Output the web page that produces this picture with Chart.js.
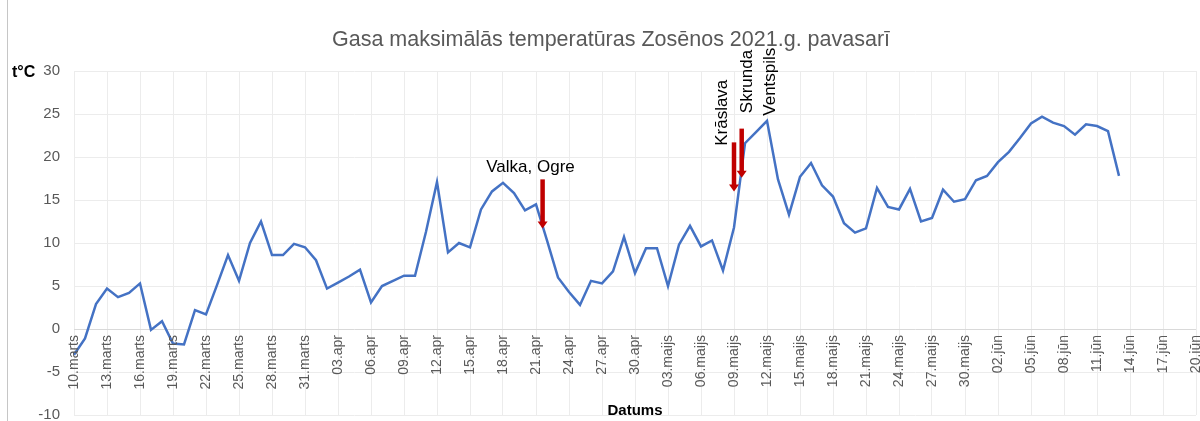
<!DOCTYPE html>
<html>
<head>
<meta charset="utf-8">
<script src="https://cdn.jsdelivr.net/npm/chart.js@4.4.0/dist/chart.umd.min.js"></script>
<style>
  html, body { margin: 0; padding: 0; background: #fff; }
  #wrap { width: 1200px; height: 421px; }
</style>
</head>
<body>
<div id="wrap"><canvas id="Zoseni" width="1200" height="421"></canvas></div>
<script>
// months on the axis: first day shown and last day shown in each
var months = ["marts", "apr", "maijs", "jūn"];
var monthFirst = [10, 1, 1, 1];
var monthLast = [31, 30, 31, 20];

// daily max temperature, 10.marts .. 13.jūn
var temps = [
  -3.0, -1.1, 2.9, 4.7, 3.7, 4.2, 5.3, -0.1, 0.9, -1.7,
  -1.8, 2.2, 1.7, 5.1, 8.6, 5.6, 10.0, 12.5, 8.6, 8.6,
  9.9, 9.5, 8.0, 4.7, 5.4, 6.1, 6.9, 3.1, 5.0, 5.6,
  6.2, 6.2, 11.3, 17.1, 8.9, 10.0, 9.5, 13.9, 16.0, 17.0,
  15.8, 13.8, 14.5, 10.3, 6.0, 4.3, 2.8, 5.6, 5.3, 6.7,
  10.7, 6.5, 9.4, 9.4, 5.0, 9.8, 12.0, 9.6, 10.3, 6.8,
  11.8, 21.6, 22.9, 24.2, 17.4, 13.3, 17.7, 19.3, 16.7, 15.4,
  12.3, 11.2, 11.7, 16.4, 14.2, 13.9, 16.3, 12.5, 12.9, 16.2,
  14.8, 15.1, 17.3, 17.8, 19.4, 20.6, 22.2, 23.9, 24.7, 24.0,
  23.6, 22.6, 23.8, 23.6, 23.0, 17.8
];

// notes on the chart (day index from 10.marts, temperature)
var notes = ["Valka, Ogre", "Krāslava", "Skrunda", "Ventspils"];
var noteDay = [41.5, 58.9, 61.2, 63.3];
var noteTemp = [18.8, 21.3, 25.1, 24.8];
var noteUpright = [false, true, true, true];

var arrowDay = [42.6, 60.0, 60.7];
var arrowFrom = [17.4, 21.7, 23.3];
var arrowTo = [11.7, 16.0, 17.6];

var title = 'Gasa maksimālās temperatūras Zosēnos 2021.g. pavasarī';

var days = [];
for (var m = 0; m < months.length; m++) {
  for (var d = monthFirst[m]; d <= monthLast[m]; d++) {
    days.push((d < 10 ? "0" + d : "" + d) + "." + months[m]);
  }
}

var font = '"Liberation Sans", Arial, sans-serif';

var extras = {
  id: 'extras',
  afterDraw: function(chart) {
    var ctx = chart.ctx,
        xs = chart.scales.x,
        ys = chart.scales.y,
        area = chart.chartArea;
    ctx.save();

    // left frame edge
    ctx.strokeStyle = '#c6c6c6';
    ctx.lineWidth = 1;
    ctx.beginPath();
    ctx.moveTo(7.5, 0);
    ctx.lineTo(7.5, chart.height);
    ctx.stroke();

    // title, a bit right of centre like excel does it
    ctx.font = '21.5px ' + font;
    ctx.fillStyle = '#595959';
    ctx.textAlign = 'center';
    ctx.textBaseline = 'middle';
    ctx.fillText(title, 611, 40);

    // date labels hang from the zero line
    var y0 = ys.getPixelForValue(0) + 6;
    ctx.font = '14px ' + font;
    ctx.textAlign = 'right';
    for (var i = 0; i < days.length; i += 3) {
      ctx.save();
      ctx.translate(xs.getPixelForValue(i), y0);
      ctx.rotate(-Math.PI / 2);
      ctx.fillText(days[i], 0, 0);
      ctx.restore();
    }

    // axis titles
    ctx.fillStyle = '#000';
    ctx.font = 'bold 15px ' + font;
    ctx.textAlign = 'center';
    ctx.fillText('Datums', (area.left + area.right) / 2, 411);
    ctx.font = 'bold 16px ' + font;
    ctx.textAlign = 'left';
    ctx.fillText('t°C', 12, 73);

    // red arrows
    ctx.fillStyle = '#C00000';
    ctx.strokeStyle = '#C00000';
    for (var a = 0; a < arrowDay.length; a++) {
      var ax = xs.getPixelForValue(arrowDay[a]),
          top = ys.getPixelForValue(arrowFrom[a]),
          tip = ys.getPixelForValue(arrowTo[a]);
      ctx.lineWidth = 4.5;
      ctx.beginPath();
      ctx.moveTo(ax, top);
      ctx.lineTo(ax, tip - 6);
      ctx.stroke();
      ctx.beginPath();
      ctx.moveTo(ax - 5, tip - 7);
      ctx.lineTo(ax + 5, tip - 7);
      ctx.lineTo(ax, tip);
      ctx.closePath();
      ctx.fill();
    }

    // town names
    ctx.fillStyle = '#000';
    ctx.font = '17px ' + font;
    for (var n = 0; n < notes.length; n++) {
      var nx = xs.getPixelForValue(noteDay[n]),
          ny = ys.getPixelForValue(noteTemp[n]);
      ctx.textBaseline = 'middle';
      if (noteUpright[n]) {
        ctx.save();
        ctx.translate(nx, ny);
        ctx.rotate(-Math.PI / 2);
        ctx.textAlign = 'left';
        ctx.fillText(notes[n], 0, 0);
        ctx.restore();
      } else {
        ctx.textAlign = 'center';
        ctx.fillText(notes[n], nx, ny);
      }
    }
    ctx.restore();
  }
};

var chartTemp = document.getElementById("Zoseni");
if (chartTemp) {
  var myChart = new Chart(chartTemp, {
    type: 'line',
    data: {
      labels: days,
      datasets: [{
        label: 'Tmax',
        data: temps,
        borderColor: '#4472C4',
        borderWidth: 2.5,
        pointRadius: 0,
        tension: 0,
        fill: false
      }]
    },
    plugins: [extras],
    options: {
      responsive: false,
      animation: false,
      devicePixelRatio: 1,
      layout: {
        padding: { left: 0, right: 4, top: 71, bottom: 0 }
      },
      plugins: {
        legend: { display: false },
        tooltip: { enabled: false },
        title: { display: false }
      },
      scales: {
        x: {
          type: 'category',
          offset: false,
          border: { display: false },
          grid: {
            offset: false,
            drawTicks: false,
            color: function(c) {
              return c.index % 3 === 0 ? '#ececec' : 'rgba(0,0,0,0)';
            }
          },
          ticks: { display: false, autoSkip: false },
          afterFit: function(scale) {
            scale.height = 0;
          }
        },
        y: {
          min: -10,
          max: 30,
          border: { display: false },
          grid: {
            drawTicks: true,
            tickLength: 14,
            tickColor: 'rgba(0,0,0,0)',
            color: function(c) {
              return c.tick.value === 0 ? '#d9d9d9' : '#ececec';
            }
          },
          ticks: {
            stepSize: 5,
            padding: 0,
            color: '#595959',
            font: { family: font, size: 15, lineHeight: 0.8 }
          },
          afterFit: function(scale) {
            scale.width = 74;
          }
        }
      }
    }
  });
}
</script>
</body>
</html>
